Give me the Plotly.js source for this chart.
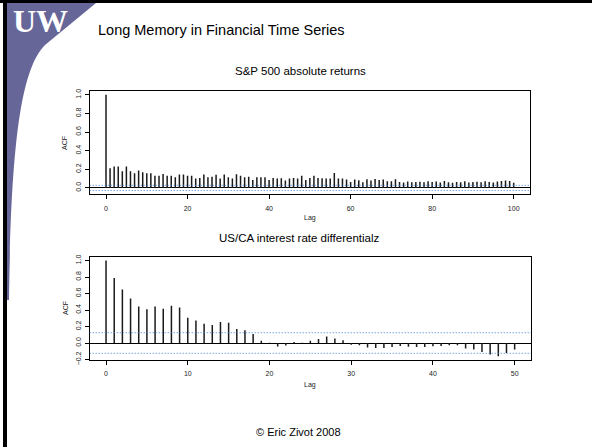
<!DOCTYPE html>
<html>
<head>
<meta charset="utf-8">
<script src="https://cdn.plot.ly/plotly-3.0.1.min.js"></script>
<style>html,body{margin:0;padding:0;background:#fff;}#chart{width:592px;height:447px;}</style>
</head>
<body>
<div id="chart"></div>
<script>
// ---------- DATA ----------
var spTitle = "S&P 500 absolute returns";
var spAcf = [1.0,0.21,0.23,0.23,0.18,0.23,0.18,0.157,0.186,0.168,
  0.157,0.157,0.13,0.13,0.15,0.13,0.13,0.114,0.143,0.143,
  0.13,0.13,0.1,0.105,0.143,0.114,0.12,0.14,0.1,0.143,
  0.114,0.1,0.146,0.13,0.114,0.12,0.086,0.114,0.114,0.114,
  0.086,0.107,0.1,0.104,0.079,0.1,0.107,0.1,0.129,0.086,
  0.107,0.13,0.107,0.104,0.1,0.1,0.16,0.1,0.1,0.09,
  0.064,0.09,0.082,0.06,0.093,0.079,0.096,0.086,0.09,0.071,
  0.071,0.093,0.064,0.057,0.068,0.06,0.064,0.065,0.06,0.07,
  0.062,0.068,0.058,0.075,0.06,0.055,0.064,0.06,0.07,0.058,
  0.062,0.065,0.06,0.07,0.062,0.058,0.068,0.075,0.078,0.075,0.055];
var spCi = 0.028;
var spXTicks = [0,20,40,60,80,100];
var spYTicks = [0.0,0.2,0.4,0.6,0.8,1.0];

var irTitle = "US/CA interest rate differentialz";
var irAcf = [1.0,0.787,0.647,0.538,0.442,0.41,0.442,0.414,0.45,0.43,
  0.305,0.273,0.233,0.218,0.256,0.245,0.17,0.155,0.108,0.028,
  0.004,-0.042,-0.03,0.013,0.004,0.028,0.048,0.08,0.054,0.032,
  -0.022,-0.028,-0.054,-0.06,-0.06,-0.048,-0.036,-0.044,-0.048,-0.048,
  -0.04,-0.036,-0.028,-0.028,-0.068,-0.08,-0.108,-0.14,-0.16,-0.12,-0.08];
var irCi = 0.125;
var irXTicks = [0,10,20,30,40,50];
var irYTicks = [-0.2,0.0,0.2,0.4,0.6,0.8,1.0];

var slideTitle = "Long Memory in Financial Time Series";
var footer = "\u00A9 Eric Zivot 2008";
var logoText = "UW";

// ---------- HELPERS ----------
var W = 592, H = 447;
function px(x){ return x / W; }
function py(y){ return 1 - y / H; }
function pt(x, y){ return px(x) + ',' + py(y); }
function spikes(vals){
  var xs = [], ys = [];
  for (var i = 0; i < vals.length; i++){ xs.push(i, i, null); ys.push(0, vals[i], null); }
  return {x: xs, y: ys};
}
var s1 = spikes(spAcf), s2 = spikes(irAcf);

var traces = [
  {type:'scatter', mode:'lines', x:s1.x, y:s1.y, xaxis:'x', yaxis:'y',
   line:{color:'#1a1a1a', width:1.5}, hoverinfo:'skip', showlegend:false},
  {type:'scatter', mode:'lines', x:s2.x, y:s2.y, xaxis:'x2', yaxis:'y2',
   line:{color:'#1a1a1a', width:1.5}, hoverinfo:'skip', showlegend:false}
];

var tickFont = {family:'Liberation Sans, Arial, sans-serif', size:7, color:'#222'};
function xAx(dom, rng, tv){
  return {domain:dom, range:rng, tickvals:tv, ticks:'outside', ticklen:4, tickcolor:'#000',
    showline:true, mirror:true, linecolor:'#000', linewidth:1, showgrid:false, zeroline:false,
    tickfont:tickFont, ticklabelstandoff:3, fixedrange:true};
}
function yAx(dom, rng, tv, anchor){
  return {domain:dom, range:rng, tickvals:tv, tickformat:'.1f', tickangle:-90, ticks:'outside', ticklen:4,
    tickcolor:'#000', showline:true, mirror:true, linecolor:'#000', linewidth:1, showgrid:false,
    zeroline:true, zerolinecolor:'#000', zerolinewidth:1, tickfont:tickFont, ticklabelstandoff:1,
    anchor:anchor, fixedrange:true};
}

var dotBlue = '#3f7fd8';
var dotStyle = {color:dotBlue, width:1, dash:'1px,2px'};
var shapes = [
  // slide borders
  {type:'rect', xref:'paper', yref:'paper', x0:0, x1:1, y0:py(3), y1:py(0), fillcolor:'#000', line:{width:0}, layer:'below'},
  {type:'rect', xref:'paper', yref:'paper', x0:px(3), x1:px(7), y0:0, y1:1, fillcolor:'#000', line:{width:0}, layer:'below'},
  // logo swoosh
  {type:'path', xref:'paper', yref:'paper', layer:'below', fillcolor:'#666699', line:{width:0},
   path:'M '+pt(7,3)+' L '+pt(96,3)+' L '+pt(45,45)+' C '+pt(20,70)+' '+pt(11,150)+' '+pt(9,300)+' L '+pt(7,300)+' Z'},
  // confidence lines
  {type:'line', xref:'x domain', yref:'y', x0:0, x1:1, y0:spCi, y1:spCi, line:dotStyle},
  {type:'line', xref:'x domain', yref:'y', x0:0, x1:1, y0:-spCi, y1:-spCi, line:dotStyle},
  {type:'line', xref:'x2 domain', yref:'y2', x0:0, x1:1, y0:irCi, y1:irCi, line:dotStyle},
  {type:'line', xref:'x2 domain', yref:'y2', x0:0, x1:1, y0:-irCi, y1:-irCi, line:dotStyle}
];

var F = 'Liberation Sans, Arial, sans-serif';
var annotations = [
  {xref:'paper', yref:'paper', x:px(11), y:py(21), xanchor:'left', yanchor:'middle', text:'<b>'+logoText+'</b>',
   showarrow:false, font:{family:'Liberation Serif, Times New Roman, serif', size:32, color:'#fff'}},
  {xref:'paper', yref:'paper', x:px(96), y:py(30), xanchor:'left', yanchor:'middle', text:slideTitle,
   showarrow:false, font:{family:F, size:14.5, color:'#000'}},
  {xref:'paper', yref:'paper', x:px(300), y:py(71), xanchor:'center', yanchor:'middle', text:spTitle,
   showarrow:false, font:{family:F, size:11.5, color:'#000'}},
  {xref:'paper', yref:'paper', x:px(298.5), y:py(238), xanchor:'center', yanchor:'middle', text:irTitle,
   showarrow:false, font:{family:F, size:11.5, color:'#000'}},
  {xref:'paper', yref:'paper', x:px(310), y:py(218), xanchor:'center', yanchor:'middle', text:'Lag',
   showarrow:false, font:{family:F, size:7, color:'#222'}},
  {xref:'paper', yref:'paper', x:px(310), y:py(385), xanchor:'center', yanchor:'middle', text:'Lag',
   showarrow:false, font:{family:F, size:7, color:'#222'}},
  {xref:'paper', yref:'paper', x:px(65), y:py(143), xanchor:'center', yanchor:'middle', text:'ACF', textangle:-90,
   showarrow:false, font:{family:F, size:7, color:'#222'}},
  {xref:'paper', yref:'paper', x:px(65), y:py(308), xanchor:'center', yanchor:'middle', text:'ACF', textangle:-90,
   showarrow:false, font:{family:F, size:7, color:'#222'}},
  {xref:'paper', yref:'paper', x:px(298), y:py(432), xanchor:'center', yanchor:'middle', text:footer,
   showarrow:false, font:{family:F, size:11, color:'#000'}}
];

var layout = {
  width:W, height:H, margin:{l:0, r:0, t:0, b:0}, paper_bgcolor:'#fff', plot_bgcolor:'rgba(0,0,0,0)',
  showlegend:false,
  xaxis: xAx([px(89.7), px(530)], [-4, 104], spXTicks),
  yaxis: yAx([py(194.3), py(91)], [-0.069, 1.041], spYTicks, 'x'),
  xaxis2: Object.assign(xAx([px(89.7), px(531)], [-2, 52], irXTicks), {anchor:'y2'}),
  yaxis2: yAx([py(360), py(256.7)], [-0.206, 1.046], irYTicks, 'x2'),
  shapes: shapes,
  annotations: annotations
};
layout.xaxis.anchor = 'y';

Plotly.newPlot('chart', traces, layout, {staticPlot:true, displayModeBar:false});
</script>
</body>
</html>
